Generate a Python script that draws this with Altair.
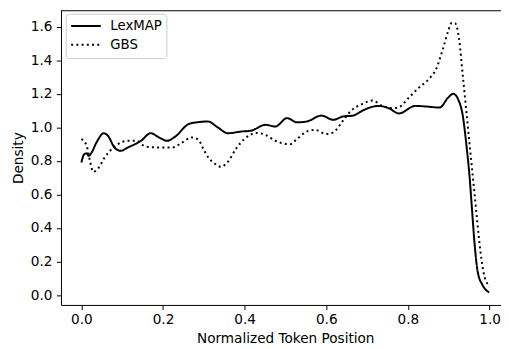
import altair as alt
import pandas as pd

lex_x = [0.0, 0.007, 0.013, 0.018, 0.025, 0.037, 0.055, 0.065, 0.081, 0.096,
         0.114, 0.146, 0.17, 0.19, 0.21, 0.23, 0.263, 0.283, 0.31, 0.334,
         0.359, 0.391, 0.415, 0.451, 0.475, 0.504, 0.528, 0.552, 0.588, 0.617,
         0.641, 0.665, 0.689, 0.709, 0.729, 0.753, 0.778, 0.818, 0.846, 0.878,
         0.898, 0.911, 0.923, 0.935, 0.943, 0.951, 0.957, 0.963, 0.971, 0.983,
         0.999]
lex_y = [0.79, 0.84, 0.845, 0.83, 0.85, 0.91, 0.965, 0.95, 0.88, 0.86,
         0.88, 0.92, 0.965, 0.94, 0.92, 0.945, 1.02, 1.03, 1.035, 1.0,
         0.965, 0.975, 0.98, 1.015, 1.005, 1.055, 1.03, 1.035, 1.07, 1.045,
         1.065, 1.07, 1.10, 1.12, 1.128, 1.114, 1.083, 1.128, 1.124, 1.118,
         1.176, 1.20, 1.167, 1.06, 0.90, 0.706, 0.51, 0.314, 0.138, 0.059,
         0.016]

gbs_x = [0.0, 0.013, 0.021, 0.029, 0.041, 0.057, 0.081, 0.114, 0.134, 0.158,
         0.194, 0.222, 0.247, 0.271, 0.287, 0.299, 0.311, 0.326, 0.342, 0.359,
         0.379, 0.399, 0.431, 0.451, 0.475, 0.512, 0.528, 0.552, 0.572, 0.60,
         0.617, 0.641, 0.661, 0.689, 0.713, 0.737, 0.762, 0.778, 0.802, 0.826,
         0.85, 0.87, 0.886, 0.898, 0.907, 0.915, 0.925, 0.935, 0.943, 0.951,
         0.959, 0.967, 0.975, 0.985, 0.997, 1.0]
gbs_y = [0.93, 0.89, 0.80, 0.735, 0.755, 0.82, 0.885, 0.92, 0.92, 0.885,
         0.88, 0.88, 0.91, 0.94, 0.925, 0.87, 0.82, 0.785, 0.765, 0.795,
         0.873, 0.93, 0.967, 0.955, 0.92, 0.90, 0.93, 0.975, 0.985, 0.96,
         0.97, 1.04, 1.10, 1.14, 1.16, 1.128, 1.114, 1.12, 1.176, 1.235,
         1.285, 1.353, 1.47, 1.569, 1.622, 1.622, 1.53, 1.294, 1.098, 0.902,
         0.706, 0.51, 0.314, 0.138, 0.059, 0.05]

series_names = ["LexMAP", "GBS"]
x_ticks = [0.0, 0.2, 0.4, 0.6, 0.8, 1.0]
y_ticks = [0.0, 0.2, 0.4, 0.6, 0.8, 1.0, 1.2, 1.4, 1.6]

rows = []
for i, (x, y) in enumerate(zip(lex_x, lex_y)):
    rows.append({"pos": x, "density": y, "method": "LexMAP", "idx": i})
for i, (x, y) in enumerate(zip(gbs_x, gbs_y)):
    rows.append({"pos": x, "density": y, "method": "GBS", "idx": i})
df = pd.DataFrame(rows)
legend_df = pd.DataFrame({"method": series_names})

X0, X1 = -0.05, 1.028
Y0, Y1 = -0.0588, 1.698
W, H = 446, 298.7
FONT = "DejaVu Sans"
FS = 13.8
LFS = 13.5

dash_scale = alt.Scale(domain=series_names, range=[[1, 0], [2, 3.3]])

lines = alt.Chart(df).mark_line(
    color="black", strokeWidth=2, interpolate="monotone", clip=True
).encode(
    x=alt.X("pos:Q",
            scale=alt.Scale(domain=[X0, X1], nice=False, zero=False),
            axis=alt.Axis(values=x_ticks, format=".1f",
                          title="Normalized Token Position",
                          titleX=227.3,
                          labelPadding=3.5, titlePadding=5,
                          labelFlush=False, labelOverlap=False)),
    y=alt.Y("density:Q",
            scale=alt.Scale(domain=[Y0, Y1], nice=False, zero=False),
            axis=alt.Axis(values=y_ticks, format=".1f", title="Density",
                          labelPadding=4.5, titlePadding=5,
                          labelFlush=False, labelOverlap=False)),
    strokeDash=alt.StrokeDash("method:N", scale=dash_scale, legend=None),
    order="idx:Q",
)

top_spine = alt.Chart(pd.DataFrame({"a": [0]})).mark_rule(
    color="black", strokeWidth=1
).encode(x=alt.value(0), x2=alt.value(W), y=alt.value(0.5))

# legend (upper left box)
leg_y = alt.Y("method:N",
              scale=alt.Scale(type="point", domain=series_names,
                              range=[16, 35], padding=0),
              axis=None)

frame = alt.Chart(pd.DataFrame({"a": [0]})).mark_rect(
    fill="white", fillOpacity=0.8, stroke="#cccccc", strokeWidth=1,
    cornerRadius=3
).encode(x=alt.value(5.3), x2=alt.value(107.3), y=alt.value(4),
         y2=alt.value(49))

leg_lines = alt.Chart(legend_df).mark_rule(
    color="black", strokeWidth=2
).encode(
    x=alt.value(10.3), x2=alt.value(40.3), y=leg_y,
    strokeDash=alt.StrokeDash("method:N", scale=dash_scale, legend=None),
)

leg_text = alt.Chart(legend_df).mark_text(
    align="left", baseline="middle", font=FONT, fontSize=LFS, color="black"
).encode(x=alt.value(50), y=leg_y, text="method:N")

chart = alt.layer(lines, top_spine, frame, leg_lines, leg_text).resolve_scale(
    y="independent"
).properties(
    width=W, height=H,
    autosize=alt.AutoSizeParams(type="none"),
    padding={"left": 53.7, "top": 0, "right": 0, "bottom": 40},
).configure_view(stroke=None).configure_axis(
    grid=False, domainColor="black", domainWidth=1, tickColor="black",
    tickWidth=1, tickSize=4.7, labelColor="black", titleColor="black",
    labelFont=FONT, titleFont=FONT, labelFontSize=FS, titleFontSize=FS,
    titleFontWeight="normal",
)

chart.save("out.html", embed_options={"renderer": "svg", "actions": False})
